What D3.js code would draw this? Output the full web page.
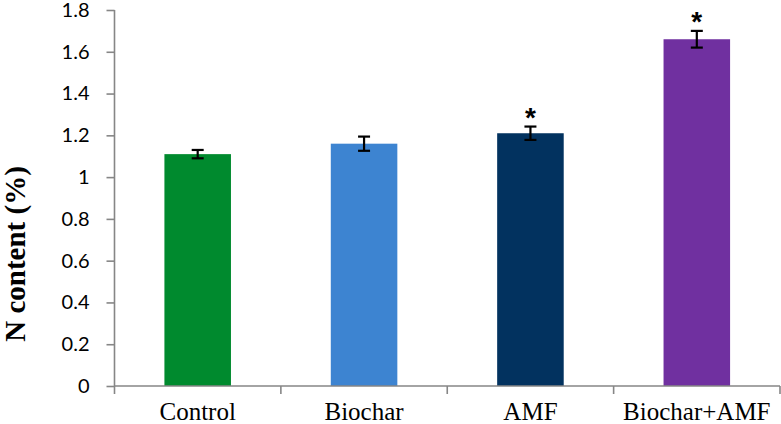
<!DOCTYPE html>
<html>
<head>
<meta charset="utf-8">
<script src="https://cdn.jsdelivr.net/npm/d3@7"></script>
<style>
  html, body { margin: 0; padding: 0; background: #fff; }
  svg { display: block; }
</style>
</head>
<body>
<svg id="chart" width="781" height="424"></svg>
<script>
// ---- data ----
const categories = ["Control", "Biochar", "AMF", "Biochar+AMF"];
const values = [1.11, 1.16, 1.21, 1.66];
const errors = [0.02, 0.034, 0.032, 0.04];
const significance = ["", "", "*", "*"];
const colors = ["#008A2E", "#3D84D1", "#02325F", "#7030A0"];
const yTicks = [0, 0.2, 0.4, 0.6, 0.8, 1, 1.2, 1.4, 1.6, 1.8];
const yTickLabels = ["0", "0.2", "0.4", "0.6", "0.8", "1", "1.2", "1.4", "1.6", "1.8"];
const yTitle = "N content (%)";

(function () {
// ---- layout ----
const mLeft = 114.5, mRight = 780, mTop = 10, mBottom = 386;
const axisColor = "#868686";

const svg = d3.select("#chart");

const y = d3.scaleLinear().domain([0, 1.8]).range([mBottom, mTop]);
const x = d3.scaleBand().domain(categories).range([mLeft, mRight]).padding(0);
const barW = x.bandwidth() * 0.4;

// bars
svg.append("g").selectAll("rect")
  .data(categories)
  .join("rect")
  .attr("x", (d) => x(d) + (x.bandwidth() - barW) / 2)
  .attr("y", (d, i) => y(values[i]))
  .attr("width", barW)
  .attr("height", (d, i) => y(0) - y(values[i]))
  .attr("fill", (d, i) => colors[i]);

// error bars
const eg = svg.append("g").attr("stroke", "#000").attr("stroke-width", 2.2);
categories.forEach((c, i) => {
  const cx = x(c) + x.bandwidth() / 2;
  const y1 = y(values[i] + errors[i]);
  const y2 = y(values[i] - errors[i]);
  eg.append("line").attr("x1", cx).attr("x2", cx).attr("y1", y1).attr("y2", y2);
  eg.append("line").attr("x1", cx - 6).attr("x2", cx + 6).attr("y1", y1).attr("y2", y1);
  eg.append("line").attr("x1", cx - 6).attr("x2", cx + 6).attr("y1", y2).attr("y2", y2);
});

// significance stars
svg.append("g").selectAll("text")
  .data(categories)
  .join("text")
  .attr("x", (d) => x(d) + x.bandwidth() / 2)
  .attr("y", (d, i) => y(values[i] + errors[i]) - 15 + 15.5)
  .attr("text-anchor", "middle")
  .attr("font-family", "'Liberation Sans', Arial, sans-serif")
  .attr("font-weight", "bold")
  .attr("font-size", 28)
  .attr("fill", "#000")
  .text((d, i) => significance[i]);

// y axis
const yAxis = d3.axisLeft(y)
  .tickValues(yTicks)
  .tickFormat((d, i) => yTickLabels[i])
  .tickSize(8)
  .tickPadding(17);
const gy = svg.append("g").attr("transform", `translate(${mLeft},0)`).call(yAxis);
gy.select(".domain").attr("stroke", axisColor).attr("stroke-width", 1.6).attr("d", `M0,${mTop}V${mBottom}`);
gy.selectAll(".tick line").attr("stroke", axisColor).attr("stroke-width", 1.6);
gy.selectAll(".tick text")
  .attr("font-family", "Lato, 'Open Sans', sans-serif")
  .attr("font-size", 20)
  .attr("fill", "#000");

// x axis
const xAxis = d3.axisBottom(x).tickSize(0).tickPadding(0);
const gx = svg.append("g").attr("transform", `translate(0,${mBottom})`).call(xAxis);
gx.select(".domain").attr("stroke", axisColor).attr("stroke-width", 1.6).attr("d", `M${mLeft},0H${mRight}`);
gx.selectAll(".tick text")
  .attr("y", 34)
  .attr("dy", 0)
  .attr("font-family", "'Liberation Serif', 'Times New Roman', serif")
  .attr("font-size", 25)
  .attr("fill", "#000");
// category boundary ticks
const bounds = categories.map((c) => x(c)).concat([mRight]);
gx.append("g").selectAll("line")
  .data(bounds)
  .join("line")
  .attr("x1", (d) => d).attr("x2", (d) => d)
  .attr("y1", 0).attr("y2", 8)
  .attr("stroke", axisColor).attr("stroke-width", 1.6);

// y title
svg.append("text")
  .attr("transform", `translate(25,${(mTop + mBottom) / 2 + 56}) rotate(-90)`)
  .attr("text-anchor", "middle")
  .attr("font-family", "'Liberation Serif', 'Times New Roman', serif")
  .attr("font-weight", "bold")
  .attr("font-size", 29)
  .attr("fill", "#000")
  .text(yTitle);
})();
</script>
</body>
</html>
